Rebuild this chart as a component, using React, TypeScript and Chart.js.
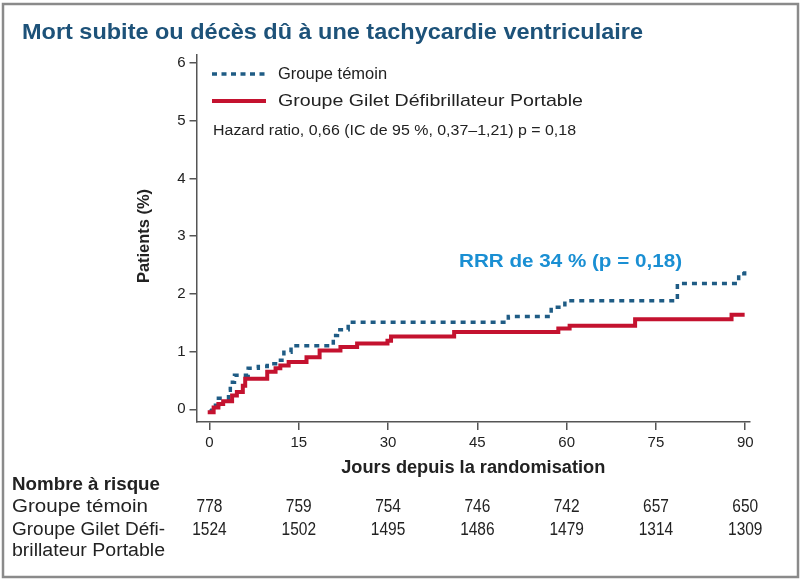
import React, { useEffect, useRef } from "react";
import { Chart, registerables } from "chart.js";

Chart.register(...registerables);

const DAY_TICKS = [0, 15, 30, 45, 60, 75, 90];
const PCT_TICKS = [0, 1, 2, 3, 4, 5, 6];

const controlDays = [0, 0.4, 1.5, 3.2, 3.5, 4.2, 6.5, 8.2, 9.7, 11.1, 12.5, 13.7, 20.8, 21.5, 23.3, 50.2, 57.4, 59.7, 78.6, 88.9, 89.9];
const controlPct = [-0.03, 0.07, 0.19, 0.33, 0.47, 0.59, 0.71, 0.74, 0.79, 0.85, 0.99, 1.1, 1.28, 1.38, 1.51, 1.61, 1.77, 1.88, 2.18, 2.35, 2.46];

const vestDays = [-0.3, 0.7, 1.5, 2.3, 3.8, 4.6, 5.6, 6.0, 9.7, 11.1, 11.9, 13.3, 16.3, 18.5, 22.0, 24.8, 29.9, 30.5, 41.1, 58.6, 60.5, 71.5, 87.7, 89.9];
const vestPct = [-0.05, 0.03, 0.09, 0.14, 0.24, 0.3, 0.41, 0.53, 0.65, 0.71, 0.76, 0.82, 0.9, 1.02, 1.08, 1.14, 1.19, 1.26, 1.34, 1.4, 1.45, 1.56, 1.64, 1.64];

const riskControl = [778, 759, 754, 746, 742, 657, 650];
const riskVest = [1524, 1502, 1495, 1486, 1479, 1314, 1309];

const TITLE = "Mort subite ou décès dû à une tachycardie ventriculaire";
const LEGEND_CONTROL = "Groupe témoin";
const LEGEND_VEST = "Groupe Gilet Défibrillateur Portable";
const HAZARD = "Hazard ratio, 0,66 (IC de 95 %, 0,37–1,21) p = 0,18";
const RRR = "RRR de 34 % (p = 0,18)";
const X_TITLE = "Jours depuis la randomisation";
const Y_TITLE = "Patients (%)";
const RISK_TITLE = "Nombre à risque";
const RISK_ROW1 = "Groupe témoin";
const RISK_ROW2A = "Groupe Gilet Défi-";
const RISK_ROW2B = "brillateur Portable";

const SANS = '"Liberation Sans", Arial, sans-serif';

const BLUE = "#1f5c85";
const RED = "#c4122f";
const TITLE_BLUE = "#1d5279";
const LIGHT_BLUE = "#1a8fd3";
const TEXT = "#222222";
const AXIS = "#555555";

function drawText(
  ctx: CanvasRenderingContext2D,
  text: string,
  x: number,
  y: number,
  font: string,
  color: string,
  opts: { width?: number; scale?: number; align?: "left" | "center" } = {}
) {
  ctx.save();
  ctx.font = font;
  ctx.fillStyle = color;
  ctx.textBaseline = "middle";
  ctx.textAlign = "left";
  const m = ctx.measureText(text).width;
  const s = opts.width ? opts.width / m : opts.scale ?? 1;
  const width = m * s;
  const x0 = opts.align === "center" ? x - width / 2 : x;
  ctx.translate(x0, y);
  ctx.scale(s, 1);
  ctx.fillText(text, 0, 0);
  ctx.restore();
}

const overlayPlugin = {
  id: "overlay",
  afterDraw(chart: any) {
    const ctx: CanvasRenderingContext2D = chart.ctx;
    const xs = chart.scales.x;
    const ca = chart.chartArea;

    // frame
    ctx.save();
    ctx.strokeStyle = "#8a8a8a";
    ctx.lineWidth = 2.5;
    ctx.strokeRect(3, 4, 795, 573);
    ctx.restore();

    // title
    drawText(ctx, TITLE, 22, 33, `bold 22px ${SANS}`, TITLE_BLUE, { width: 621 });

    // legend
    ctx.save();
    ctx.lineWidth = 3.5;
    ctx.strokeStyle = BLUE;
    ctx.setLineDash([5, 4.5]);
    ctx.beginPath();
    ctx.moveTo(212, 74);
    ctx.lineTo(266, 74);
    ctx.stroke();
    ctx.setLineDash([]);
    ctx.strokeStyle = RED;
    ctx.lineWidth = 4;
    ctx.beginPath();
    ctx.moveTo(212, 101);
    ctx.lineTo(266, 101);
    ctx.stroke();
    ctx.restore();
    drawText(ctx, LEGEND_CONTROL, 278, 74, `17px ${SANS}`, TEXT, { scale: 0.97 });
    drawText(ctx, LEGEND_VEST, 278, 101, `17px ${SANS}`, TEXT, { width: 305 });
    drawText(ctx, HAZARD, 213, 131, `14px ${SANS}`, TEXT, { width: 363 });

    // RRR annotation
    drawText(ctx, RRR, 459, 262, `bold 19px ${SANS}`, LIGHT_BLUE, { width: 223 });

    // axis titles
    drawText(ctx, X_TITLE, (ca.left + ca.right) / 2, 468, `bold 18px ${SANS}`, TEXT, { width: 264, align: "center" });
    ctx.save();
    ctx.translate(145, 236);
    ctx.rotate(-Math.PI / 2);
    drawText(ctx, Y_TITLE, 0, 0, `bold 16px ${SANS}`, TEXT, { width: 94, align: "center" });
    ctx.restore();

    // number at risk table
    drawText(ctx, RISK_TITLE, 12, 485, `bold 18px ${SANS}`, TEXT, { width: 148 });
    drawText(ctx, RISK_ROW1, 12, 507, `18px ${SANS}`, TEXT, { width: 136 });
    drawText(ctx, RISK_ROW2A, 12, 530, `18px ${SANS}`, TEXT, { width: 153 });
    drawText(ctx, RISK_ROW2B, 12, 551, `18px ${SANS}`, TEXT, { width: 153 });
    DAY_TICKS.forEach((d, i) => {
      const px = xs.getPixelForValue(d);
      drawText(ctx, String(riskControl[i]), px, 507, `18px ${SANS}`, TEXT, { scale: 0.86, align: "center" });
      drawText(ctx, String(riskVest[i]), px, 530, `18px ${SANS}`, TEXT, { scale: 0.86, align: "center" });
    });
  },
};

export default function App() {
  const ref = useRef<HTMLCanvasElement | null>(null);

  useEffect(() => {
    if (!ref.current) return;
    const chart = new Chart(ref.current, {
      type: "line",
      data: {
        datasets: [
          {
            label: LEGEND_VEST,
            data: vestDays.map((d, i) => ({ x: d, y: vestPct[i] })),
            borderColor: RED,
            borderWidth: 4,
            pointRadius: 0,
            stepped: true,
            fill: false,
          },
          {
            label: LEGEND_CONTROL,
            data: controlDays.map((d, i) => ({ x: d, y: controlPct[i] })),
            borderColor: BLUE,
            borderWidth: 3.5,
            borderDash: [5, 5],
            borderCapStyle: "butt",
            pointRadius: 0,
            stepped: true,
            fill: false,
          },
        ],
      },
      options: {
        responsive: false,
        animation: false,
        layout: { padding: { left: 136.5, right: 51, top: 55, bottom: 117 } },
        plugins: {
          legend: { display: false },
          tooltip: { enabled: false },
          title: { display: false },
        },
        scales: {
          x: {
            type: "linear",
            min: -2.18,
            max: 90.8,
            afterBuildTicks: (s: any) => {
              s.ticks = DAY_TICKS.map((v) => ({ value: v }));
            },
            afterFit: (s: any) => {
              s.height = 40;
            },
            grid: { drawOnChartArea: false, drawTicks: true, tickLength: 8, color: AXIS, lineWidth: 1.5 },
            border: { display: true, color: AXIS, width: 1.5 },
            ticks: {
              autoSkip: false,
              maxRotation: 0,
              padding: 4,
              color: TEXT,
              font: { family: SANS, size: 15 },
              callback: (v: any) => String(v),
            },
          },
          y: {
            type: "linear",
            min: -0.22,
            max: 6.14,
            afterBuildTicks: (s: any) => {
              s.ticks = PCT_TICKS.map((v) => ({ value: v }));
            },
            afterFit: (s: any) => {
              s.width = 60;
            },
            grid: { drawOnChartArea: false, drawTicks: true, tickLength: 7, color: AXIS, lineWidth: 1.5 },
            border: { display: true, color: AXIS, width: 1.5 },
            ticks: {
              autoSkip: false,
              padding: 4,
              color: TEXT,
              font: { family: SANS, size: 15 },
              callback: (v: any) => String(v),
            },
          },
        },
      },
      plugins: [overlayPlugin],
    });
    return () => chart.destroy();
  }, []);

  return (
    <div style={{ position: "absolute", left: 0, top: 0, width: 801, height: 579, background: "#ffffff" }}>
      <canvas ref={ref} width={801} height={579} style={{ width: 801, height: 579, display: "block" }} />
    </div>
  );
}
